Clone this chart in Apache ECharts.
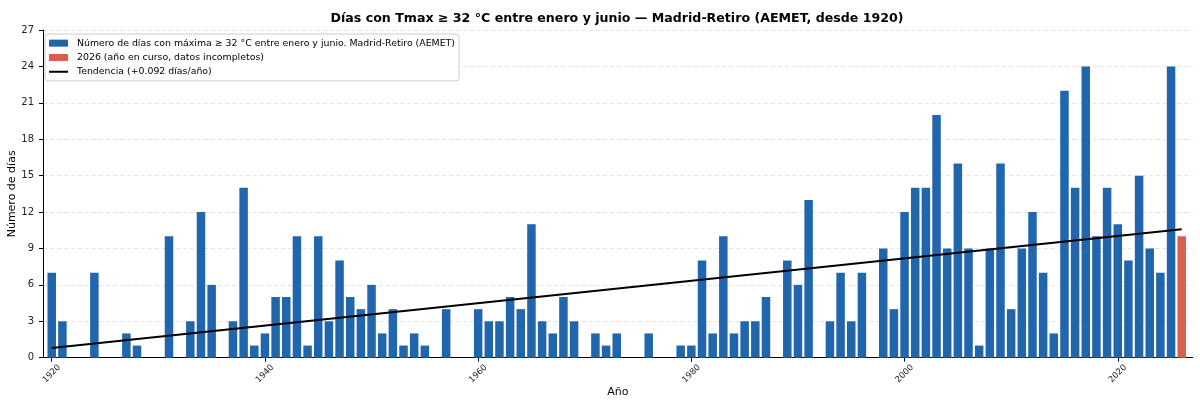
<!DOCTYPE html>
<html>
<head>
<meta charset="utf-8">
<script src="https://cdn.jsdelivr.net/npm/echarts@6/dist/echarts.min.js"></script>
<style>
html,body{margin:0;padding:0;background:#fff;}
#chart{width:1200px;height:406px;}
</style>
</head>
<body>
<div id="chart"></div>
<script>
// ---- Data ----
const years = [];
for (let y = 1920; y <= 2025; y++) years.push(y);
const daysOver32 = [
  7, 3, 0, 0, 7, 0, 0, 2, 1, 0,
  0, 10, 0, 3, 12, 6, 0, 3, 14, 1,
  2, 5, 5, 10, 1, 10, 3, 8, 5, 4,
  6, 2, 4, 1, 2, 1, 0, 4, 0, 0,
  4, 3, 3, 5, 4, 11, 3, 2, 5, 3,
  0, 2, 1, 2, 0, 0, 2, 0, 0, 1,
  1, 8, 2, 10, 2, 3, 3, 5, 0, 8,
  6, 13, 0, 3, 7, 3, 7, 0, 9, 4,
  12, 14, 14, 20, 9, 16, 9, 1, 9, 16,
  4, 9, 12, 7, 2, 22, 14, 24, 10, 14,
  11, 8, 15, 9, 7, 24
];
const currentYear = 2026;
const currentYearValue = 10;
const xTickYears = [1920, 1940, 1960, 1980, 2000, 2020];
const yTicks = [0, 3, 6, 9, 12, 15, 18, 21, 24, 27];

const titleText = 'Días con Tmax ≥ 32 °C entre enero y junio — Madrid-Retiro (AEMET, desde 1920)';
const seriesNames = [
  'Número de días con máxima ≥ 32 °C entre enero y junio. Madrid-Retiro (AEMET)',
  '2026 (año en curso, datos incompletos)',
  'Tendencia (+0.092 días/año)'
];

// ---- Linear trend (least squares over complete years) ----
const n = years.length;
const mx = years.reduce((a, b) => a + b, 0) / n;
const my = daysOver32.reduce((a, b) => a + b, 0) / n;
let sxy = 0, sxx = 0;
for (let i = 0; i < n; i++) { sxy += (years[i] - mx) * (daysOver32[i] - my); sxx += (years[i] - mx) ** 2; }
const slope = sxy / sxx;
const intercept = my - slope * mx;
const trendData = [[1920, intercept + slope * 1920], [currentYear, intercept + slope * currentYear]];

const chart = echarts.init(document.getElementById('chart'), null, { renderer: 'canvas' });
const FONT = 'DejaVu Sans';
chart.setOption({
  animation: false,
  backgroundColor: '#fff',
  textStyle: { fontFamily: FONT },
  title: {
    text: titleText,
    left: 612, top: 7, textAlign: 'center',
    textStyle: { fontFamily: FONT, fontSize: 12.6, fontWeight: 'bold', color: '#000' }
  },
  legend: {
    orient: 'vertical',
    left: 45, top: 34,
    padding: [3, 4, 3, 4],
    itemGap: 2,
    itemWidth: 19, itemHeight: 7,
    symbolKeepAspect: true,
    backgroundColor: '#fff',
    borderColor: '#ccc', borderWidth: 1, borderRadius: 3,
    textStyle: { fontFamily: FONT, fontSize: 9.4, color: '#000', lineHeight: 12.3, padding: [0, 0, 0, 4] },
    data: [
      { name: seriesNames[0], icon: 'rect' },
      { name: seriesNames[1], icon: 'rect' },
      { name: seriesNames[2], icon: 'path://M0,0L19,0L19,2L0,2Z' }
    ]
  },
  grid: { left: 43, right: 7.3, top: 30, bottom: 48.3, containLabel: false, outerBoundsMode: 'none' },
  xAxis: {
    type: 'value',
    min: 1919.18, max: 2027.03,
    name: 'Año', nameLocation: 'middle', nameGap: 29, nameMoveOverlap: false,
    nameTextStyle: { fontFamily: FONT, fontSize: 11, color: '#000' },
    axisLine: { show: true, lineStyle: { color: '#000', width: 1 } },
    axisTick: { show: true, customValues: xTickYears, length: 4, lineStyle: { color: '#000' } },
    axisLabel: { customValues: xTickYears, rotate: 45, fontSize: 8.5, color: '#222', margin: 16,
      align: 'center', verticalAlign: 'middle', fontFamily: FONT,
      formatter: v => String(v) },
    splitLine: { show: false }
  },
  yAxis: {
    type: 'value',
    min: 0, max: 27, interval: 3,
    name: 'Número de días', nameLocation: 'middle', nameGap: 25.5, nameRotate: 90, nameMoveOverlap: false,
    nameTextStyle: { fontFamily: FONT, fontSize: 11, color: '#000' },
    axisLine: { show: true, lineStyle: { color: '#000', width: 1 } },
    axisTick: { show: true, length: 4, lineStyle: { color: '#000' } },
    axisLabel: { fontSize: 10, color: '#222', margin: 9, fontFamily: FONT,
      formatter: v => (yTicks.indexOf(v) >= 0 ? String(v) : '') },
    splitLine: { show: true, lineStyle: { color: '#ddd', type: [4, 3], width: 0.8 } }
  },
  series: [
    {
      name: seriesNames[0], type: 'bar', stack: 'all',
      barWidth: 8.5,
      itemStyle: { color: '#2166ac' },
      data: years.map((y, i) => [y, daysOver32[i]])
    },
    {
      name: seriesNames[1], type: 'bar', stack: 'all',
      barWidth: 8.5,
      itemStyle: { color: '#d6604d' },
      data: [[currentYear, currentYearValue]]
    },
    {
      name: seriesNames[2], type: 'line',
      symbol: 'none', z: 5,
      lineStyle: { color: '#000', width: 2 },
      itemStyle: { color: '#000' },
      data: trendData
    }
  ]
});
</script>
</body>
</html>
